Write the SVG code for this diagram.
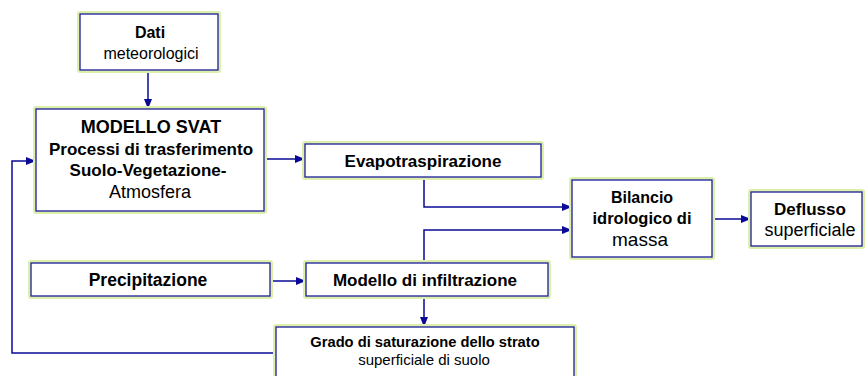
<svg xmlns="http://www.w3.org/2000/svg" width="866" height="376" viewBox="0 0 866 376">
<defs>
<style>
.glow{fill:none;stroke:#dcf0ac;stroke-width:6;stroke-linejoin:round}
.box{fill:#ffffff;stroke:#1c1c9c;stroke-width:1.3}
.t{font-family:"Liberation Sans",Arial,sans-serif;font-size:17px;fill:#000;text-anchor:middle}
.b{font-weight:bold}
.con{fill:none;stroke:#0a0a96;stroke-width:1.5}
</style>
<marker id="ah" markerWidth="10" markerHeight="8" refX="9" refY="4" orient="auto" markerUnits="userSpaceOnUse">
<path d="M0,0 L10,4 L0,8 Z" fill="#0a0a96"/>
</marker>
</defs>
<rect width="866" height="376" fill="#ffffff"/>

<g id="connectors">
<path class="con" d="M148,70 V108" marker-end="url(#ah)"/>
<path class="con" d="M264,159 H304" marker-end="url(#ah)"/>
<path class="con" d="M424,177 V207 H571" marker-end="url(#ah)"/>
<path class="con" d="M424,263 V230 H571" marker-end="url(#ah)"/>
<path class="con" d="M712,219 H750" marker-end="url(#ah)"/>
<path class="con" d="M270,281 H305" marker-end="url(#ah)"/>
<path class="con" d="M424,296 V326" marker-end="url(#ah)"/>
<path class="con" d="M276,353 H12 V161 H35" marker-end="url(#ah)"/>
</g>

<g id="dati">
<rect class="glow" x="80" y="14" width="138" height="56"/>
<rect class="box" x="80" y="14" width="138" height="56"/>
<text class="t b" x="150" y="38" style="font-size:16px">Dati</text>
<text class="t" x="151" y="59" style="font-size:16px">meteorologici</text>
</g>

<g id="svat">
<rect class="glow" x="36" y="109" width="228" height="102"/>
<rect class="box" x="36" y="109" width="228" height="102"/>
<text class="t b" x="151" y="133" style="font-size:18px">MODELLO SVAT</text>
<text class="t b" x="151" y="155">Processi di trasferimento</text>
<text class="t b" x="148" y="176">Suolo-Vegetazione-</text>
<text class="t" x="150" y="198" style="font-size:18px">Atmosfera</text>
</g>

<g id="evapo">
<rect class="glow" x="305" y="144" width="236" height="33"/>
<rect class="box" x="305" y="144" width="236" height="33"/>
<text class="t b" x="423" y="167">Evapotraspirazione</text>
</g>

<g id="bilancio">
<rect class="glow" x="572" y="180" width="140" height="77"/>
<rect class="box" x="572" y="180" width="140" height="77"/>
<text class="t b" x="642" y="203" style="font-size:16px">Bilancio</text>
<text class="t b" x="642" y="224" style="font-size:16.5px">idrologico di</text>
<text class="t" x="640" y="246" style="font-size:19px">massa</text>
</g>

<g id="deflusso">
<rect class="glow" x="751" y="192" width="111" height="54"/>
<rect class="box" x="751" y="192" width="111" height="54"/>
<text class="t b" x="810" y="215">Deflusso</text>
<text class="t" x="810" y="236" style="font-size:18px">superficiale</text>
</g>

<g id="precipitazione">
<rect class="glow" x="31" y="263" width="239" height="33"/>
<rect class="box" x="31" y="263" width="239" height="33"/>
<text class="t b" x="148" y="286" style="font-size:17.5px">Precipitazione</text>
</g>

<g id="infiltrazione">
<rect class="glow" x="306" y="263" width="242" height="33"/>
<rect class="box" x="306" y="263" width="242" height="33"/>
<text class="t b" x="425" y="286">Modello di infiltrazione</text>
</g>

<g id="grado">
<rect class="glow" x="276" y="327" width="298" height="60"/>
<rect class="box" x="276" y="327" width="298" height="60"/>
<text class="t b" x="425" y="347" style="font-size:14.7px">Grado di saturazione dello strato</text>
<text class="t" x="424" y="365" style="font-size:15px">superficiale di suolo</text>
</g>
</svg>
